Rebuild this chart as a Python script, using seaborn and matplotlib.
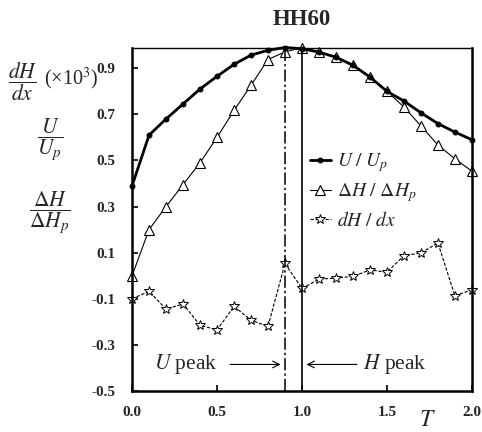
import matplotlib
matplotlib.use("Agg")
import matplotlib.pyplot as plt
import seaborn as sns
import numpy as np
import pandas as pd

T = [0.0, 0.1, 0.2, 0.3, 0.4, 0.5, 0.6, 0.7, 0.8, 0.9, 1.0,
     1.1, 1.2, 1.3, 1.4, 1.5, 1.6, 1.7, 1.8, 1.9, 2.0]
U_Up = [0.39, 0.61, 0.68, 0.745, 0.81, 0.865, 0.917, 0.957, 0.978, 0.99, 0.985,
        0.97, 0.948, 0.913, 0.862, 0.80, 0.758, 0.707, 0.66, 0.623, 0.59]
dH_dHp = [0.0, 0.20, 0.30, 0.395, 0.49, 0.60, 0.717, 0.826, 0.938, 0.971, 0.99,
          0.971, 0.95, 0.914, 0.863, 0.80, 0.732, 0.65, 0.567, 0.507, 0.454]
dHdx = [-0.10, -0.068, -0.145, -0.123, -0.215, -0.235, -0.133, -0.193, -0.22, 0.053, -0.055,
        -0.015, -0.01, -0.003, 0.025, 0.015, 0.087, 0.099, 0.142, -0.087, -0.061]

xticks = [0.0, 0.5, 1.0, 1.5, 2.0]
yticks = [-0.5, -0.3, -0.1, 0.1, 0.3, 0.5, 0.7, 0.9]

sns.set_theme(style="ticks")
plt.rcParams["font.family"] = ["Liberation Serif", "DejaVu Serif"]
plt.rcParams["mathtext.fontset"] = "stix"

df = pd.DataFrame({"T": T, "U": U_Up, "DH": dH_dHp, "dHdx": dHdx})

fig = plt.figure(figsize=(4.82, 4.32), dpi=100)
ax = fig.add_axes([0.274, 0.095, 0.705, 0.795])

sns.lineplot(data=df, x="T", y="dHdx", ax=ax, color="black", lw=0.8,
             marker="*", markersize=7, markerfacecolor="white", markeredgecolor="black",
             markeredgewidth=0.7, label=r"$dH\ /\ dx$", clip_on=False)
ax.lines[-1].set_dashes((3, 1.5))
sns.lineplot(data=df, x="T", y="DH", ax=ax, color="black", lw=0.8,
             marker="^", markersize=6.5, markerfacecolor="white", markeredgecolor="black",
             markeredgewidth=0.8, label=r"$\Delta H\ /\ \Delta H_p$", clip_on=False)
sns.lineplot(data=df, x="T", y="U", ax=ax, color="black", lw=2.0,
             marker="o", markersize=3.5, markerfacecolor="black", markeredgecolor="black",
             label=r"$U\ /\ U_p$", clip_on=False)

ax.axvline(0.9, color="black", lw=1.1, dashes=(8, 2, 1.5, 2))
ax.axvline(1.0, color="black", lw=1.2)

ax.set_xlim(0.0, 2.0)
ax.set_ylim(-0.5, 0.99)
ax.set_xticks(xticks)
ax.set_yticks(yticks)
ax.set_xticklabels([f"{v:.1f}" for v in xticks], fontweight="bold", fontsize=11)
ax.set_yticklabels([f"{v:.1f}" for v in yticks], fontweight="bold", fontsize=11)
ax.tick_params(axis="both", direction="in", length=4, width=1.2, color="black")
ax.tick_params(axis="x", pad=11)
ax.tick_params(axis="y", pad=12)
ax.set_xlabel("")
ax.set_ylabel("")

for s in ["left", "bottom", "right"]:
    ax.spines[s].set_linewidth(1.8)
    ax.spines[s].set_visible(True)
ax.spines["top"].set_linewidth(1.0)
ax.spines["top"].set_visible(True)
for s in ax.spines.values():
    s.set_color("black")

h, l = ax.get_legend_handles_labels()
order = [2, 1, 0]
leg = ax.legend([h[i] for i in order], [l[i] for i in order], loc="upper left",
                bbox_to_anchor=(0.5, 0.72), frameon=False, fontsize=14,
                handlelength=1.1, handletextpad=0.3, labelspacing=0.35, borderaxespad=0)

ax.annotate("", xy=(0.89, -0.385), xytext=(0.56, -0.385),
            arrowprops=dict(arrowstyle="->", lw=0.8, color="black"))
ax.annotate("", xy=(1.01, -0.385), xytext=(1.34, -0.385),
            arrowprops=dict(arrowstyle="->", lw=0.8, color="black"))
ax.text(0.13, -0.385, r"$U$ peak", fontsize=15.5, va="center", ha="left")
ax.text(1.36, -0.385, r"$H$ peak", fontsize=15.5, va="center", ha="left")

ax.text(0.87, -0.085, r"$T$", transform=ax.transAxes, fontsize=17, ha="center", va="center")

fig.text(0.627, 0.956, "HH60", fontsize=16.5, fontweight="bold", ha="center", va="center")

fig.text(0.046, 0.812, r"$\dfrac{dH}{dx}$", fontsize=15.5, ha="center", va="center")
fig.text(0.147, 0.818, r"(×10$^3$)", fontsize=14.5, ha="center", va="center")
fig.text(0.104, 0.676, r"$\dfrac{U}{U_p}$", fontsize=15.5, ha="center", va="center")
fig.text(0.104, 0.507, r"$\dfrac{\Delta H}{\Delta H_p}$", fontsize=15.5, ha="center", va="center")

fig.savefig("out.png", dpi=100)
